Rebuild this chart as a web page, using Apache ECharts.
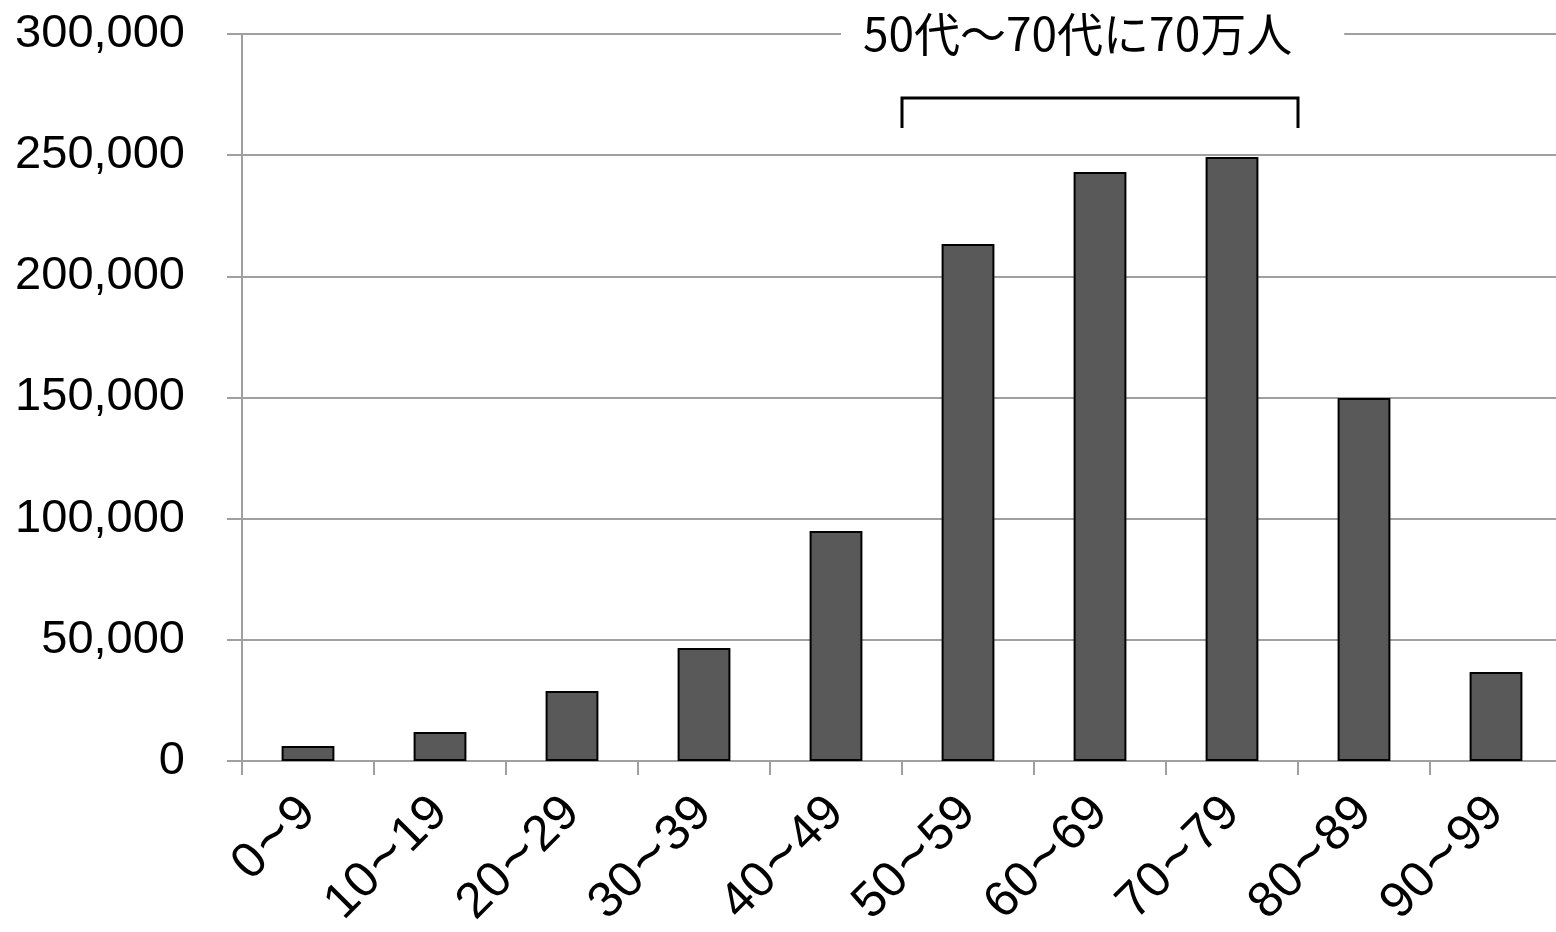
<!DOCTYPE html>
<html>
<head>
<meta charset="utf-8">
<style>
  html, body { margin: 0; padding: 0; background: #fff; }
  #chart { width: 1556px; height: 932px; }
</style>
<script src="https://cdn.jsdelivr.net/npm/echarts@6/dist/echarts.min.js"></script>
</head>
<body>
<div id="chart"></div>
<script>
// Age bands and counts of people in each band
const ageBands = ['0~9', '10~19', '20~29', '30~39', '40~49', '50~59', '60~69', '70~79', '80~89', '90~99'];
const counts = [6200, 12000, 28900, 46600, 94900, 213300, 243100, 249200, 149800, 36700];

// Value axis range
const yMin = 0;
const yMax = 300000;
const yStep = 50000;

// Bracket spanning the 50s to 70s bands (category indices)
const bracketSpan = [5, 7];
const bracketTopValue = 273600;
const bracketFootValue = 261200;
const calloutText = '50代～70代に70万人';

const chart = echarts.init(document.getElementById('chart'), null, { renderer: 'canvas' });

const latin = 'Liberation Sans, Arial, sans-serif';

chart.setOption({
  animation: false,
  backgroundColor: '#ffffff',
  title: {
    text: calloutText,
    left: 841,
    top: 8,
    padding: [0, 52, 0, 22],
    backgroundColor: '#ffffff',
    textStyle: {
      fontFamily: 'Noto Sans CJK JP',
      fontSize: 46,
      fontWeight: 'normal',
      color: '#000000',
      lineHeight: 52
    }
  },
  // the plot runs slightly past the right edge of the canvas
  grid: {
    left: 242, width: 1320, top: 34, bottom: 171,
    containLabel: false,
    outerBoundsMode: 'none'
  },
  xAxis: {
    type: 'category',
    data: ageBands,
    boundaryGap: true,
    axisLine: { show: true, lineStyle: { color: '#a0a0a0', width: 2 } },
    axisTick: { show: true, alignWithLabel: false, length: 14, lineStyle: { color: '#a0a0a0', width: 2 } },
    axisLabel: {
      rotate: 45,
      margin: 44,
      interval: 0,
      fontFamily: latin,
      fontSize: 50,
      color: '#000000',
      formatter: v => v.replace('~', '{t|~}'),
      rich: {
        t: { fontFamily: latin, fontSize: 60, color: '#000000', padding: [0, 2] }
      }
    },
    splitLine: { show: false }
  },
  yAxis: {
    type: 'value',
    min: yMin,
    max: yMax,
    interval: yStep,
    axisLine: { show: true, lineStyle: { color: '#a0a0a0', width: 2 } },
    axisTick: { show: true, length: 15, lineStyle: { color: '#a0a0a0', width: 2 } },
    axisLabel: {
      margin: 57,
      fontFamily: latin,
      fontSize: 47,
      color: '#000000',
      formatter: v => v.toLocaleString('en-US')
    },
    splitLine: { show: true, lineStyle: { color: '#a0a0a0', width: 2 } }
  },
  series: [
    {
      type: 'bar',
      data: counts,
      barWidth: '40%',
      itemStyle: { color: '#595959', borderColor: '#000000', borderWidth: 2 }
    },
    {
      type: 'custom',
      data: [bracketSpan],
      z: 5,
      silent: true,
      renderItem: function (params, api) {
        const band = api.size([1, 0])[0];
        const a = api.coord([api.value(0), bracketTopValue]);
        const b = api.coord([api.value(1), bracketTopValue]);
        const foot = api.coord([api.value(0), bracketFootValue])[1];
        const x0 = a[0] - band / 2;
        const x1 = b[0] + band / 2;
        return {
          type: 'polyline',
          shape: { points: [[x0, foot], [x0, a[1]], [x1, a[1]], [x1, foot]] },
          style: { stroke: '#000000', lineWidth: 3, fill: null }
        };
      }
    }
  ]
});
</script>
</body>
</html>
